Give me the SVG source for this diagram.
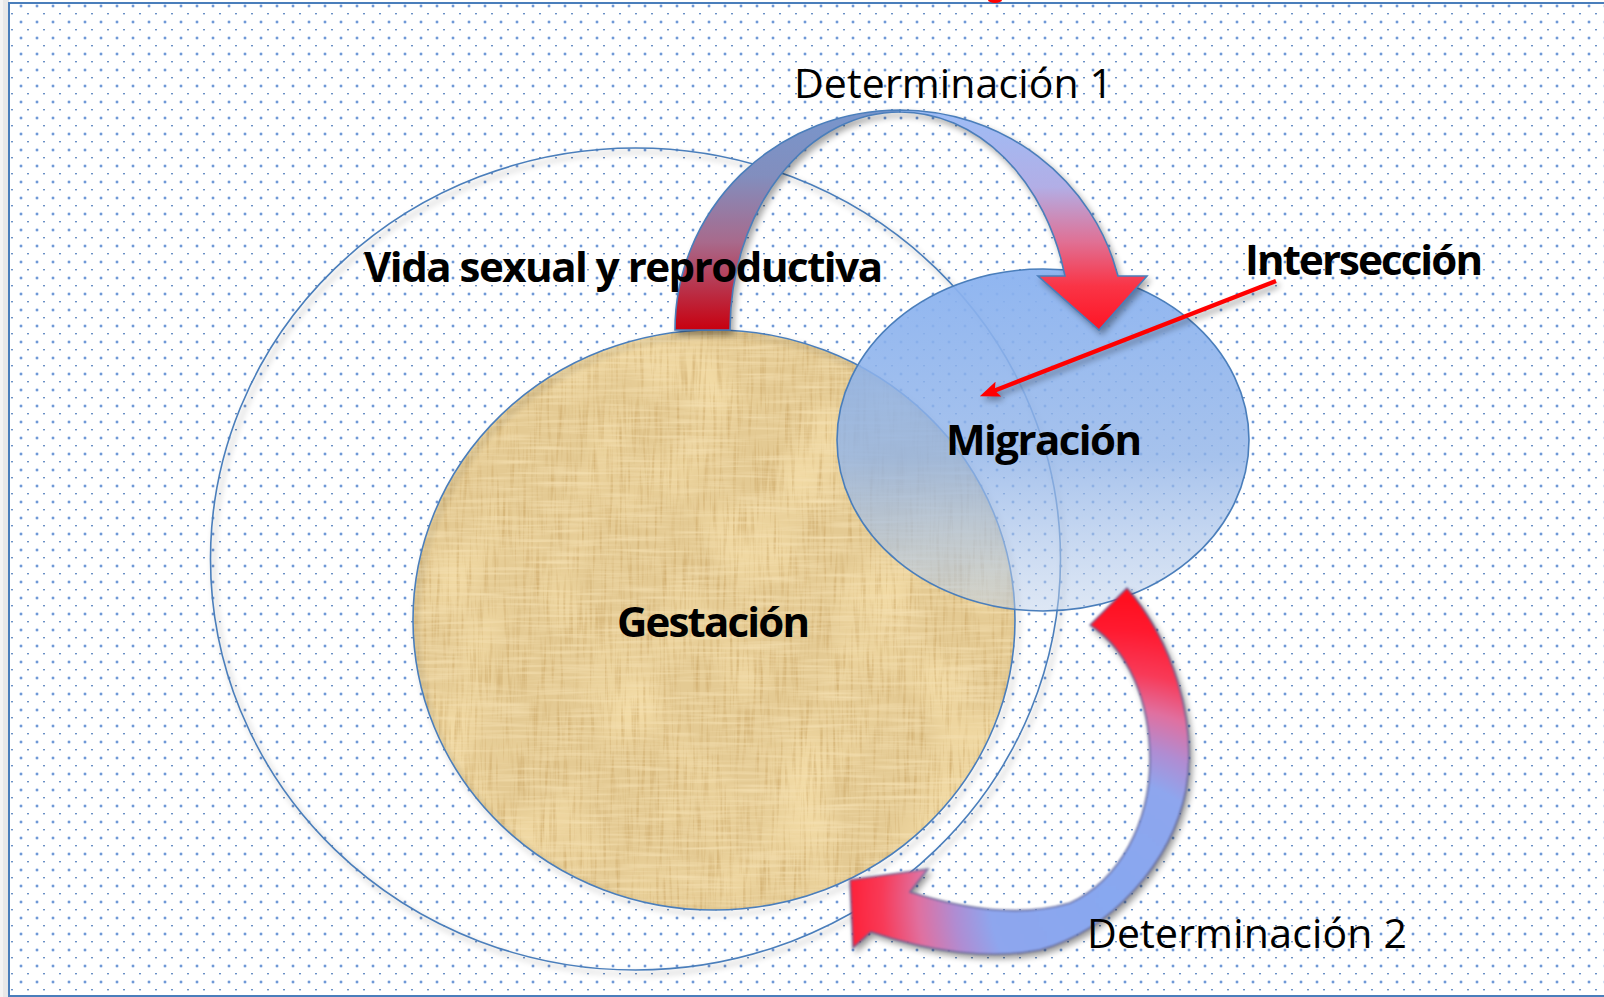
<svg xmlns="http://www.w3.org/2000/svg" width="1604" height="997" viewBox="0 0 1604 997">
<style>
.lbl{font-family:"Open Sans","Liberation Sans",sans-serif;fill:#000}
.b{font-weight:700;font-size:42px}
.r{font-weight:400;font-size:41px}
.edge{stroke:#4a7ebb;stroke-width:1.6}
</style>
<defs>
<pattern id="dots" x="0" y="0" width="16" height="16" patternUnits="userSpaceOnUse">
<circle cx="5" cy="6" r="1.7" fill="#aec6ea"/>
<rect x="4" y="5" width="2" height="2" fill="#6f98d6"/>
<rect x="11" y="13" width="2" height="1.4" fill="#6a90c6"/>
</pattern>
<filter id="sh" x="-10%" y="-10%" width="125%" height="125%" color-interpolation-filters="sRGB">
<feGaussianBlur in="SourceAlpha" stdDeviation="3"/>
<feOffset dx="3" dy="4"/>
<feComponentTransfer><feFuncA type="linear" slope="0.35"/></feComponentTransfer>
<feMerge><feMergeNode/><feMergeNode in="SourceGraphic"/></feMerge>
</filter>
<filter id="shsoft" x="-10%" y="-10%" width="125%" height="125%" color-interpolation-filters="sRGB">
<feGaussianBlur in="SourceAlpha" stdDeviation="3"/>
<feOffset dx="3" dy="4"/>
<feComponentTransfer><feFuncA type="linear" slope="0.4"/></feComponentTransfer>
<feMerge result="m"><feMergeNode/></feMerge>
<feGaussianBlur in="SourceGraphic" stdDeviation="0.9" result="sg"/>
<feMerge><feMergeNode in="m"/><feMergeNode in="sg"/></feMerge>
</filter>
<filter id="papyrus" x="0" y="0" width="1" height="1" color-interpolation-filters="sRGB">
<feTurbulence type="fractalNoise" baseFrequency="0.012 0.01" numOctaves="2" seed="7" result="nb"/>
<feColorMatrix in="nb" type="matrix" values="0 0 0 0 0.96  0 0 0 0 0.87  0 0 0 0 0.66  2.4 0 0 0 -1.05" result="tb"/>
<feTurbulence type="fractalNoise" baseFrequency="0.3 0.02" numOctaves="2" seed="4" result="nv"/>
<feColorMatrix in="nv" type="matrix" values="0 0 0 0 0.78  0 0 0 0 0.63  0 0 0 0 0.37  -1.5 0 0 0 0.78" result="tv"/>
<feTurbulence type="fractalNoise" baseFrequency="0.015 0.28" numOctaves="2" seed="11" result="nh"/>
<feColorMatrix in="nh" type="matrix" values="0 0 0 0 0.96  0 0 0 0 0.88  0 0 0 0 0.70  1.8 0 0 0 -0.78" result="th"/>
<feMerge result="all"><feMergeNode in="SourceGraphic"/><feMergeNode in="tb"/><feMergeNode in="tv"/><feMergeNode in="th"/></feMerge>
<feGaussianBlur in="all" stdDeviation="0.7" result="bl"/>
<feComposite in="bl" in2="SourceGraphic" operator="in"/>
</filter>
<linearGradient id="migG" x1="0" y1="0" x2="0" y2="1">
<stop offset="0" stop-color="#8ab2f0" stop-opacity="0.95"/>
<stop offset="0.55" stop-color="#90b3e8" stop-opacity="0.8"/>
<stop offset="1" stop-color="#bccfea" stop-opacity="0.5"/>
</linearGradient>
<linearGradient id="a1L" gradientUnits="userSpaceOnUse" x1="0" y1="110" x2="0" y2="330">
<stop offset="0" stop-color="#7896cc"/>
<stop offset="0.3" stop-color="#828ebe"/>
<stop offset="0.6" stop-color="#a86a8c"/>
<stop offset="1" stop-color="#c8000f"/>
</linearGradient>
<linearGradient id="a1R" gradientUnits="userSpaceOnUse" x1="0" y1="110" x2="0" y2="330">
<stop offset="0" stop-color="#9dbdf6"/>
<stop offset="0.35" stop-color="#b2aee6"/>
<stop offset="0.6" stop-color="#e07094"/>
<stop offset="0.8" stop-color="#fa3446"/>
<stop offset="1" stop-color="#ff1424"/>
</linearGradient>
<radialGradient id="a2G" gradientUnits="userSpaceOnUse" cx="1110" cy="900" r="300">
<stop offset="0" stop-color="#88a8f0"/>
<stop offset="0.4" stop-color="#8ea6ee"/>
<stop offset="0.52" stop-color="#b08cd2"/>
<stop offset="0.64" stop-color="#e070a0"/>
<stop offset="0.76" stop-color="#f83a58"/>
<stop offset="0.9" stop-color="#ff1a30"/>
<stop offset="1" stop-color="#ff1020"/>
</radialGradient>
<marker id="ah" viewBox="0 0 20 16" refX="8" refY="8" markerWidth="20" markerHeight="16" markerUnits="userSpaceOnUse" orient="auto">
<path d="M0,0 L20,8 L0,16 L4,8 Z" fill="#ff0000"/>
</marker>
</defs>

<g id="background">
<rect x="0" y="0" width="1604" height="997" fill="#ffffff"/>
<rect x="0" y="0" width="9" height="997" fill="#e8e8e8"/>
<rect x="0" y="0" width="3" height="997" fill="#f4f4f4"/>
<rect x="9" y="3" width="1600" height="993" fill="url(#dots)" stroke="#4a7ebb" stroke-width="2"/>
<ellipse cx="995" cy="0" rx="7" ry="3" fill="#ff0000"/>
</g>

<g id="vida">
<ellipse cx="635.5" cy="559" rx="425" ry="411" fill="none" class="edge" filter="url(#sh)"/>
</g>

<g id="gestacion">
<ellipse cx="714" cy="620" rx="301" ry="290" fill="#e4ca93" filter="url(#papyrus)"/>
<ellipse cx="714" cy="620" rx="301" ry="290" fill="none" class="edge" filter="url(#sh)"/>
</g>

<g id="migracion">
<ellipse cx="1043" cy="440" rx="206" ry="171" fill="none" stroke="#000" stroke-opacity="0.01" stroke-width="3" filter="url(#sh)"/>
<ellipse cx="1043" cy="440" rx="206" ry="171" fill="url(#migG)" class="edge"/>
</g>

<g id="connectors">
<g id="determinacion1" filter="url(#sh)">
<path d="M675,330 A225,220 0 0 1 900,110 L900,112 A170,218 0 0 0 730,330 Z" fill="url(#a1L)" class="edge"/>
<path d="M900,110 A225,220 0 0 1 1118,276 L1147,276 L1099,330 L1038,276 L1065,276 A170,218 0 0 0 900,112 Z" fill="url(#a1R)" class="edge"/>
</g>
<g id="determinacion2" filter="url(#shsoft)">
<path d="M1127,588 C1172,640 1198,720 1186,790 C1172,862 1112,930 1040,950 C990,960 930,952 871,932 L853,948 L850,880 L928,869 L910,892 C960,908 1020,918 1070,903 C1120,880 1150,822 1150,760 C1150,700 1128,650 1090,625 Z" fill="url(#a2G)" stroke="#5a5f96" stroke-width="1.6" stroke-opacity="0.8"/>
</g>
<g id="interseccion-arrow" filter="url(#sh)">
<line x1="1276" y1="281" x2="991" y2="392" stroke="#ff0000" stroke-width="4.5" marker-end="url(#ah)"/>
</g>
</g>

<g id="labels">
<text class="lbl r" x="794" y="98" textLength="319">Determinación 1</text>
<text class="lbl b" x="364" y="282" textLength="519">Vida sexual y reproductiva</text>
<text class="lbl b" x="1245" y="275" textLength="238">Intersección</text>
<text class="lbl b" x="946" y="455" textLength="196">Migración</text>
<text class="lbl b" x="617" y="637" textLength="193">Gestación</text>
<text class="lbl r" x="1087" y="948" textLength="320">Determinación 2</text>
</g>
</svg>
